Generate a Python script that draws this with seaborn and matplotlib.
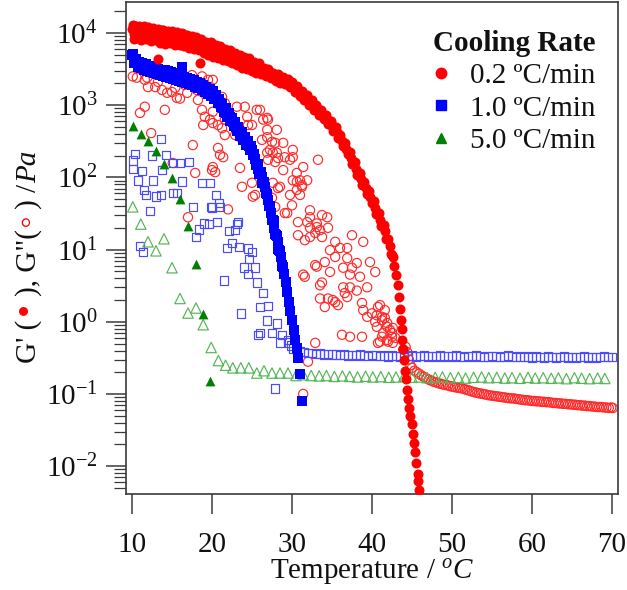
import matplotlib
matplotlib.use("Agg")
import matplotlib.pyplot as plt
from matplotlib.lines import Line2D
from matplotlib.ticker import LogLocator, NullFormatter
import numpy as np
import pandas as pd
import seaborn as sns

# ---------------- data ----------------
rate_labels = ["0.2 ºC/min", "1.0 ºC/min", "5.0 ºC/min"]
x_ticks = [10, 20, 30, 40, 50, 60, 70]

# G' at 0.2 C/min (red filled circles) - centre of the band
gp02_T = [10.0, 10.2, 10.4, 10.6, 10.8, 11.0,
          11.3, 11.6, 11.9, 12.2, 12.5, 12.8, 13.1, 13.4, 13.7, 14.0,
          14.3, 14.6, 14.9, 15.2, 15.5, 15.8, 16.1, 16.4, 16.7, 17.0,
          17.3, 17.6, 17.9, 18.2, 18.5, 18.8, 19.1, 19.4, 19.7, 20.0,
          20.3, 20.6, 20.9, 21.2, 21.5, 21.8, 22.1, 22.4, 22.7, 23.0,
          23.3, 23.6, 23.9, 24.2, 24.5, 24.8, 25.1, 25.4, 25.7, 26.0,
          26.3, 26.6, 26.9, 27.2, 27.5, 27.8, 28.1, 28.4, 28.7, 29.0,
          29.3, 29.6, 29.9, 30.2, 30.5, 30.8, 31.1, 31.4, 31.7, 32.0,
          32.3, 32.6, 32.9, 33.2, 33.5, 33.8, 34.1, 34.4, 34.7, 35.0,
          35.3, 35.6, 35.9, 36.2, 36.5, 36.8, 37.1, 37.4, 37.7, 38.0,
          38.3, 38.6, 38.9, 39.2, 39.5, 39.8, 40.1, 40.4, 40.7, 41.0,
          41.3, 41.6, 41.9, 42.2, 42.5, 42.8,
          43.0, 43.2, 43.35, 43.5, 43.6, 43.7, 43.8, 43.9, 44.0, 44.1,
          44.2, 44.35, 44.5, 44.65, 44.8, 44.95, 45.1, 45.25, 45.4, 45.55,
          45.7, 45.8, 45.9,
          13.25, 18.5]
gp02_G = [11200, 9550, 12000, 8900, 11500, 9800,
          11700, 8700, 11000, 9300, 11200, 8300, 10500, 9100, 11000, 7900,
          10000, 8500, 9800, 7800, 9300, 8100, 9500, 7600, 8900, 7200,
          8500, 7100, 8100, 6600, 7600, 6300, 7200, 6000, 6800, 5800,
          6500, 5400, 6000, 5000, 5600, 4700, 5200, 4600, 5000, 4300,
          4700, 4000, 4400, 3800, 4100, 3500, 3800, 3300, 3500, 3100,
          3200, 2900, 3000, 2700, 2750, 2500, 2570, 2350, 2350, 2200,
          2140, 2000, 1900, 1780, 1660, 1580, 1450, 1380, 1260, 1170,
          1070, 1000, 930, 870, 790, 740, 690, 630, 575, 510,
          470, 420, 370, 320, 290, 250, 220, 186, 158, 132,
          112, 95, 81, 71, 62, 54, 46, 38, 32, 26,
          22, 17.8, 14.1, 11.2, 8.3, 6.0,
          4.5, 3.2, 2.2, 1.5, 1.05, 0.79, 0.56, 0.42, 0.30, 0.21,
          0.16, 0.112, 0.085, 0.063, 0.050, 0.038, 0.028, 0.021, 0.0158, 0.0112,
          0.0079, 0.0063, 0.0047,
          4400, 3800]
# G' at 0.2 C/min - the scattered upper / lower edge points of the same band
gp02_edge_T = [10.1, 10.3, 10.5, 10.7, 10.9,
               11.15, 11.45, 11.75, 12.05, 12.35, 12.65, 12.95, 13.25, 13.55, 13.85,
               14.15, 14.45, 14.75, 15.05, 15.35, 15.65, 15.95, 16.25, 16.55, 16.85,
               17.15, 17.45, 17.75, 18.05, 18.35, 18.65, 18.95, 19.25, 19.55, 19.85,
               20.15, 20.45, 20.75, 21.05, 21.35, 21.65, 21.95, 22.25, 22.55, 22.85,
               23.15, 23.45, 23.75, 24.05, 24.35, 24.65, 24.95, 25.25, 25.55, 25.85,
               26.15, 26.45, 26.75, 27.05, 27.35, 27.65, 27.95, 28.25, 28.55, 28.85,
               29.15, 29.45, 29.75, 30.05, 30.35, 30.65, 30.95, 31.25, 31.55, 31.85,
               32.15, 32.45, 32.75, 33.05, 33.35, 33.65, 33.95, 34.25, 34.55, 34.85,
               35.15, 35.45, 35.75, 36.05, 36.35, 36.65, 36.95, 37.25, 37.55, 37.85,
               38.15, 38.45, 38.75, 39.05, 39.35, 39.65, 39.95, 40.25, 40.55, 40.85,
               41.15, 41.45, 41.75, 42.05, 42.35, 42.65]
gp02_edge_G = [12900, 8300, 12600, 8500, 12300,
               8100, 12300, 8300, 12000, 7800, 11700, 7900, 11200, 7200, 11000,
               7100, 10700, 7200, 10500, 6900, 10200, 6800, 10000, 6500, 9500,
               6200, 9100, 6000, 8700, 5800, 8300, 5200, 7600, 5000, 7400,
               4700, 6800, 4500, 6600, 4200, 5900, 4100, 5800, 3800, 5200,
               3600, 5000, 3300, 4600, 3200, 4500, 2950, 3900, 2800, 3800,
               2700, 3300, 2500, 3150, 2350, 2800, 2150, 2700, 2050, 2450,
               1950, 2300, 1800, 2070, 1530, 1820, 1350, 1580, 1180, 1360,
               1000, 1160, 860, 1010, 740, 860, 640, 740, 540, 610,
               440, 495, 350, 390, 272, 300, 209, 226, 153, 162,
               108, 116, 79, 85, 59, 65, 44, 47, 31, 32,
               21, 22, 14.1, 14.1, 8.6, 7.9]

# G'' at 0.2 C/min (red open circles): scattered cloud + smooth tail
gpp02_cloud_T = [10.1, 10.6, 11.6, 11.9, 12.0, 12.9, 13.25, 13.75, 14.4, 15.0,
                 15.4, 15.6, 16.0, 16.6, 16.9, 17.5, 18.1, 18.25, 18.75, 19.1,
                 19.5, 19.75, 20.1, 18.75, 19.1, 20.1, 19.75, 21.25, 21.6, 18.9,
                 20.1, 20.75, 21.25, 21.6, 22.5, 23.1, 24.1, 25.6, 24.4, 24.5,
                 25.0, 21.6, 22.9, 23.5, 26.25, 27.0, 28.1, 27.5, 26.9, 27.6,
                 28.25, 27.0, 11.6, 11.0, 14.1, 17.6, 21.4, 20.1, 15.1, 12.4,
                 17.0, 22.0, 17.9, 20.4, 23.5, 25.0, 27.6, 28.25, 25.4, 23.75,
                 25.1, 26.4, 26.9, 27.5, 27.9, 29.4, 20.75, 21.0, 20.0, 26.9,
                 26.9, 27.9, 27.25, 28.9, 28.1, 30.1, 29.75, 28.9, 30.6, 31.0,
                 30.1, 28.5, 33.25, 31.4, 27.9, 26.0, 29.1, 30.1, 31.9, 31.25,
                 30.6, 32.25, 32.9, 33.1, 31.6, 32.9, 31.4, 26.4, 26.9, 30.6,
                 31.25, 29.75, 31.0, 30.0, 29.1, 32.25, 33.75, 34.4, 30.75, 31.9,
                 33.1, 32.25, 33.5, 34.5, 30.75, 32.25, 33.75, 37.5, 38.9, 35.4,
                 34.75, 36.0, 36.9, 35.4, 36.9, 34.1, 33.1, 38.1, 39.75, 34.75,
                 36.4, 37.5, 37.25, 38.5, 40.4, 31.6, 33.5, 36.4, 37.25, 38.1,
                 39.4, 36.6, 33.5, 34.5, 35.4, 34.1, 35.75, 36.9, 38.75, 38.9,
                 40.0, 40.75, 40.6, 39.4, 40.4, 41.25, 41.6, 40.6, 41.9, 42.6,
                 36.25, 37.25, 38.75, 41.25, 40.75, 41.9, 42.5, 32.9, 33.75, 35.1,
                 32.0, 31.4, 41.0, 41.6, 41.25, 41.9, 42.25, 41.4, 41.0, 42.0,
                 42.6, 42.5, 42.9, 43.9]
gpp02_cloud_G = [2500, 2400, 2240, 2400, 1780, 1780, 2100, 1620, 1480, 1520,
                 1740, 1260, 1230, 1900, 1480, 2600, 1620, 1180, 2500, 1740,
                 2240, 1780, 2240, 860, 690, 810, 630, 1300, 1070, 530,
                 565, 530, 480, 630, 630, 950, 950, 860, 690, 530,
                 530, 385, 385, 360, 330, 630, 455, 310, 220, 220,
                 185, 175, 950, 780, 860, 280, 190, 139, 158, 410,
                 28, 36, 115, 118, 135, 84, 84, 71, 57, 74,
                 54, 78, 61, 52, 39, 32, 255, 205, 126, 665,
                 360, 300, 240, 300, 220, 190, 175, 126, 115, 91,
                 91, 74, 175, 139, 163, 860, 190, 240, 91, 74,
                 67, 28, 17, 20.5, 13.5, 6.1, 4.5, 630, 455, 87,
                 78, 57, 57, 41, 32, 35, 30, 28, 24, 24,
                 23, 20, 18.6, 20, 15.8, 14.9, 14.9, 15.8, 12.8, 12.8,
                 9.8, 10.5, 10.5, 7.9, 7.6, 6.7, 5.8, 6.5, 6.7, 4.9,
                 5.6, 5.6, 4.5, 4.2, 4.9, 4.2, 3.2, 3.0, 3.0, 2.7,
                 3.0, 2.5, 2.1, 2.1, 1.87, 1.60, 1.70, 2.2, 1.82, 1.45,
                 1.31, 1.60, 1.23, 1.17, 1.0, 1.17, 1.13, 0.85, 0.85, 0.82,
                 0.66, 0.62, 0.62, 0.62, 0.51, 0.56, 0.62, 0.51, 3.5, 2.0,
                 0.28, 0.10, 1.70, 1.45, 1.05, 0.96, 0.77, 0.70, 0.53, 0.53,
                 0.51, 0.70, 0.60, 0.41]
gpp02_tail_T = [44.2, 44.4, 44.6, 44.8, 45.0, 45.3, 45.6, 45.9, 46.2, 46.5,
                46.8, 47.1, 47.4, 47.7, 48.0, 48.3, 48.6, 48.9, 49.2, 49.5,
                49.8, 50.1, 50.4, 50.7, 51.0, 51.3, 51.6, 51.9, 52.2, 52.5,
                52.8, 53.1, 53.4, 53.7, 54.0, 54.3, 54.6, 54.9, 55.2, 55.5,
                55.8, 56.1, 56.4, 56.7, 57.0, 57.3, 57.6, 57.9, 58.2, 58.5,
                58.8, 59.1, 59.4, 59.7, 60.0, 60.3, 60.6, 60.9, 61.2, 61.5,
                61.8, 62.1, 62.4, 62.7, 63.0, 63.3, 63.6, 63.9, 64.2, 64.5,
                64.8, 65.1, 65.4, 65.7, 66.0, 66.3, 66.6, 66.9, 67.2, 67.5,
                67.8, 68.1, 68.4, 68.7, 69.0, 69.3, 69.6, 69.9, 70.1]
gpp02_tail_G = [0.45, 0.38, 0.30, 0.25, 0.23, 0.21, 0.20, 0.19, 0.18, 0.172,
                0.165, 0.158, 0.153, 0.148, 0.145, 0.141, 0.138, 0.135, 0.133, 0.131,
                0.128, 0.126, 0.124, 0.122, 0.121, 0.119, 0.116, 0.114, 0.111, 0.108,
                0.106, 0.104, 0.102, 0.101, 0.099, 0.098, 0.096, 0.095, 0.094, 0.093,
                0.092, 0.091, 0.090, 0.089, 0.088, 0.087, 0.087, 0.086, 0.085, 0.084,
                0.083, 0.082, 0.082, 0.081, 0.080, 0.080, 0.079, 0.079, 0.078, 0.078,
                0.077, 0.077, 0.076, 0.075, 0.075, 0.074, 0.074, 0.073, 0.073, 0.072,
                0.072, 0.071, 0.071, 0.070, 0.070, 0.069, 0.069, 0.068, 0.068, 0.067,
                0.067, 0.066, 0.066, 0.066, 0.065, 0.065, 0.064, 0.065, 0.064]

# G' at 1.0 C/min (blue filled squares) - centre of the band
gp10_T = [10.0, 10.2, 10.4, 10.6, 10.8, 11.0, 11.2, 11.4, 11.6, 11.8,
          12.0, 12.2, 12.4, 12.6, 12.8, 13.0, 13.2, 13.4, 13.6, 13.8,
          14.0, 14.2, 14.4, 14.6, 14.8, 15.0, 15.2, 15.4, 15.6, 15.8,
          16.0, 16.2, 16.4, 16.6, 16.8, 17.0, 17.2, 17.4, 17.6, 17.8,
          18.0, 18.2, 18.4, 18.6, 18.8, 19.0, 19.2, 19.4, 19.6, 19.8,
          20.0, 20.2, 20.4, 20.6, 20.8, 21.0, 21.2, 21.4, 21.6, 21.8,
          22.0, 22.2, 22.4, 22.6, 22.8, 23.0, 23.2, 23.4, 23.6, 23.8,
          24.0, 24.2, 24.4, 24.6, 24.8, 25.0, 25.2, 25.4, 25.6, 25.8,
          26.0, 26.2, 26.4, 26.6, 26.8, 27.0, 27.2, 27.4, 27.6, 27.8,
          28.0, 28.2, 28.4, 28.6, 28.8, 29.0, 29.2, 29.4, 29.6, 29.8,
          30.0, 30.2, 30.4, 30.6, 30.8, 31.0, 31.2, 16.25]
gp10_G = [5000, 4400, 4000, 3800, 3700, 3600, 3550, 3450, 3400, 3300,
          3250, 3150, 3100, 3050, 3000, 2950, 2900, 2870, 2830, 2800,
          2760, 2740, 2700, 2650, 2620, 2580, 2530, 2500, 2450, 2400,
          2350, 2330, 2280, 2230, 2180, 2150, 2120, 2080, 2040, 2000,
          1950, 1900, 1850, 1780, 1740, 1700, 1650, 1600, 1550, 1500,
          1450, 1380, 1320, 1230, 1150, 1070, 980, 910, 850, 790,
          740, 680, 630, 590, 550, 500, 470, 435, 400, 370,
          345, 315, 295, 275, 255, 240, 210, 178, 150, 132,
          115, 100, 85, 74, 60, 49, 40, 32, 26, 20,
          16, 12.6, 10, 7.8, 6.0, 4.6, 3.5, 2.6, 1.9, 1.4,
          1.05, 0.76, 0.56, 0.43, 0.32, 0.19, 0.079, 3400]
# G' at 1.0 C/min - upper / lower edge points of the band
gp10_edge_T = [10.1, 10.3, 10.5, 10.7, 10.9, 11.1, 11.3, 11.5, 11.7, 11.9,
               12.1, 12.3, 12.5, 12.7, 12.9, 13.1, 13.3, 13.5, 13.7, 13.9,
               14.1, 14.3, 14.5, 14.7, 14.9, 15.1, 15.3, 15.5, 15.7, 15.9,
               16.1, 16.3, 16.5, 16.7, 16.9, 17.1, 17.3, 17.5, 17.7, 17.9,
               18.1, 18.3, 18.5, 18.7, 18.9, 19.1, 19.3, 19.5, 19.7, 19.9,
               20.1, 20.3, 20.5, 20.7, 20.9, 21.1, 21.3, 21.5, 21.7, 21.9,
               22.1, 22.3, 22.5, 22.7, 22.9, 23.1, 23.3, 23.5, 23.7, 23.9,
               24.1, 24.3, 24.5, 24.7, 24.9, 25.1, 25.3, 25.5, 25.7, 25.9,
               26.1, 26.3, 26.5, 26.7, 26.9, 27.1, 27.3, 27.5, 27.7, 27.9,
               28.1, 28.3, 28.5, 28.7, 28.9]
gp10_edge_G = [5160, 3820, 4290, 3410, 4010, 3250, 3850, 3110, 3690, 2980,
               3520, 2840, 3380, 2750, 3270, 2660, 3170, 2590, 3100, 2530,
               3030, 2470, 2940, 2400, 2860, 2320, 2770, 2250, 2670, 2160,
               2570, 2100, 2480, 2000, 2380, 1940, 2310, 1870, 2220, 1800,
               2120, 1700, 2000, 1600, 1890, 1520, 1790, 1430, 1680, 1340,
               1560, 1230, 1400, 1080, 1220, 930, 1040, 800, 900, 695,
               780, 595, 670, 518, 578, 441, 497, 379, 424, 325,
               363, 277, 314, 241, 272, 205, 212, 148, 155, 112,
               118, 84, 87, 61, 59, 40, 40, 26, 25, 16.4,
               15.6, 10.2, 9.7, 6.2, 5.8]

# G'' at 1.0 C/min (blue open squares): scattered part + flat tail
gpp10_scatter_T = [10.4, 10.1, 10.1, 11.25, 13.6, 12.5, 14.25, 15.1, 16.0, 17.1,
                   12.6, 16.25, 18.75, 19.75, 11.5, 11.75, 13.0, 13.6, 15.1, 17.6,
                   19.9, 20.9, 21.0, 12.25, 19.0, 19.6, 20.6, 18.4, 22.1, 23.1,
                   23.25, 22.9, 18.0, 11.0, 11.4, 21.9, 23.4, 24.5, 24.6, 24.0,
                   25.4, 24.5, 25.6, 21.5, 26.4, 26.0, 27.0, 23.6, 26.9, 28.1,
                   25.75, 26.0, 27.5, 28.75, 29.5, 28.5, 27.9, 22.5, 25.0, 13.75,
                   10.75, 15.6, 20.5, 20.0]
gpp10_scatter_G = [210, 170, 130, 123, 340, 200, 205, 158, 158, 163,
                   91, 87, 84, 84, 67, 57, 54, 57, 61, 39,
                   39, 44, 39, 34, 23, 22.5, 24, 18.8, 18, 22.5,
                   24, 18.6, 14.9, 11.2, 9.3, 10.5, 10.9, 10.3, 7.4, 5.6,
                   5.6, 4.6, 3.5, 3.7, 2.5, 1.6, 1.66, 1.29, 1.05, 0.95,
                   0.66, 0.70, 0.70, 0.66, 0.56, 0.52, 0.12, 12.3, 9.3, 126,
                   91, 61, 57, 38]
gpp10_tail_T = [29.6, 29.9, 30.2, 30.6, 31.0, 31.5, 32.0, 32.5, 33.0, 33.5,
                34.0, 34.5, 35.0, 35.5, 36.0, 36.5, 37.0, 37.5, 38.0, 38.5,
                39.0, 39.5, 40.0, 40.5, 41.0, 41.5, 42.0, 42.5, 43.0, 43.5,
                44.0, 44.5, 45.0, 45.5, 46.0, 46.5, 47.0, 47.5, 48.0, 48.5,
                49.0, 49.5, 50.0, 50.5, 51.0, 51.5, 52.0, 52.5, 53.0, 53.5,
                54.0, 54.5, 55.0, 55.5, 56.0, 56.5, 57.0, 57.5, 58.0, 58.5,
                59.0, 59.5, 60.0, 60.5, 61.0, 61.5, 62.0, 62.5, 63.0, 63.5,
                64.0, 64.5, 65.0, 65.5, 66.0, 66.5, 67.0, 67.5, 68.0, 68.5,
                69.0, 69.5, 70.0]
gpp10_tail_G = [0.52, 0.47, 0.43, 0.40, 0.39, 0.38, 0.37, 0.37, 0.36, 0.365,
                0.355, 0.36, 0.35, 0.355, 0.345, 0.35, 0.34, 0.345, 0.34, 0.35,
                0.34, 0.335, 0.345, 0.34, 0.335, 0.34, 0.33, 0.34, 0.335, 0.33,
                0.325, 0.335, 0.34, 0.33, 0.335, 0.34, 0.33, 0.335, 0.33, 0.34,
                0.33, 0.335, 0.33, 0.34, 0.33, 0.325, 0.335, 0.33, 0.34, 0.33,
                0.325, 0.33, 0.335, 0.33, 0.325, 0.33, 0.34, 0.33, 0.325, 0.33,
                0.325, 0.33, 0.32, 0.33, 0.325, 0.32, 0.33, 0.325, 0.32, 0.325,
                0.33, 0.32, 0.325, 0.32, 0.325, 0.33, 0.32, 0.325, 0.32, 0.325,
                0.33, 0.325, 0.325]

# G' at 5.0 C/min (green filled triangles)
gp50_T = [10.1, 11.1, 12.0, 13.0, 14.0, 15.0, 16.0, 17.0, 18.0, 18.9, 19.8]
gp50_G = [515, 400, 318, 232, 155, 98, 50, 21, 6.3, 1.3, 0.15]

# G'' at 5.0 C/min (green open triangles)
gpp50_T = [10.1, 11.1, 12.0, 13.0, 14.0, 15.0, 16.0, 17.0, 18.0, 18.9,
           19.9, 20.8, 21.7, 22.6, 23.6, 24.6, 25.6, 26.5, 27.5, 28.5,
           29.5, 30.5, 31.4, 32.4, 33.4, 34.3, 35.3, 36.3, 37.2, 38.2,
           39.2, 40.1, 41.1, 42.1, 43.0, 44.0, 45.0, 45.9, 46.9, 47.9,
           48.8, 49.8, 50.8, 51.7, 52.7, 53.7, 54.6, 55.6, 56.6, 57.5,
           58.5, 59.5, 60.4, 61.4, 62.4, 63.3, 64.3, 65.3, 66.2, 67.2,
           68.2, 69.1]
gpp50_G = [39, 22.5, 12.8, 9.6, 14.1, 5.6, 2.1, 1.32, 1.55, 0.91,
           0.44, 0.29, 0.25, 0.23, 0.23, 0.23, 0.195, 0.21, 0.195, 0.195,
           0.195, 0.18, 0.185, 0.18, 0.178, 0.18, 0.175, 0.178, 0.175, 0.172,
           0.176, 0.172, 0.174, 0.17, 0.172, 0.175, 0.17, 0.172, 0.168, 0.17,
           0.172, 0.168, 0.17, 0.166, 0.17, 0.172, 0.168, 0.17, 0.166, 0.168,
           0.165, 0.17, 0.166, 0.168, 0.165, 0.167, 0.163, 0.168, 0.165, 0.163,
           0.166, 0.164]

# ---------------- style ----------------
sns.set_theme(style="ticks")
plt.rcParams["font.family"] = ["Liberation Serif", "DejaVu Sans"]
plt.rcParams["mathtext.fontset"] = "custom"
plt.rcParams["mathtext.rm"] = "Liberation Serif"
plt.rcParams["mathtext.it"] = "Liberation Serif:italic"
plt.rcParams["mathtext.bf"] = "Liberation Serif:bold"

W, H = 627, 590
L, R, T, B = 126, 618, 2, 494
fig = plt.figure(figsize=(W / 100, H / 100), dpi=100)
ax = fig.add_axes([L / W, 1 - B / H, (R - L) / W, (B - T) / H])
ax.set_yscale("log")

RED, BLUE, GREEN = "#ff0000", "#0000ff", "#008000"


def scat(tv, gv, marker, s, face, edge, lw, z):
    df = pd.DataFrame({"T": tv, "G": gv})
    sns.scatterplot(data=df, x="T", y="G", marker=marker, s=s,
                    facecolor=face, edgecolor=edge, linewidth=lw,
                    ax=ax, legend=False, zorder=z)


scat(gpp02_cloud_T + gpp02_tail_T, gpp02_cloud_G + gpp02_tail_G,
     "o", 44, "none", "#ff2a2a", 0.85, 2)
scat(gpp10_scatter_T + gpp10_tail_T, gpp10_scatter_G + gpp10_tail_G,
     "s", 38, "none", "#4a4aff", 0.85, 2.1)
scat(gpp50_T, gpp50_G, "^", 56, "none", "#55b555", 0.85, 2.2)
scat(gp10_T + gp10_edge_T, gp10_G + gp10_edge_G, "s", 42, BLUE, BLUE, 0.0, 3)
scat(gp50_T, gp50_G, "^", 50, GREEN, GREEN, 0.0, 3.1)
scat(gp02_T + gp02_edge_T, gp02_G + gp02_edge_G, "o", 52, RED, RED, 0.0, 3.2)

ax.set_xlim(9.25, 70.75)
ax.set_ylim(4.12e-3, 2.68e4)
ax.set_xticks(x_ticks)
ax.set_xticklabels([str(v) for v in x_ticks])
ax.yaxis.set_major_locator(LogLocator(base=10, numticks=20))
ax.yaxis.set_minor_locator(LogLocator(base=10, subs=np.arange(2, 10), numticks=20))
ax.yaxis.set_minor_formatter(NullFormatter())

edge_col = "#3a3a3a"
for sp in ax.spines.values():
    sp.set_color(edge_col)
    sp.set_linewidth(1.2)
ax.tick_params(axis="both", which="major", direction="out", length=14.4,
               width=1.1, color=edge_col, labelsize=21, labelcolor="#111111")
ax.tick_params(axis="x", which="major", pad=13)
ax.tick_params(axis="y", which="major", pad=6)
ax.tick_params(axis="y", which="minor", direction="out", length=9,
               width=0.9, color=edge_col)
ax.tick_params(axis="x", which="minor", bottom=False)

ax.set_ylabel("")
ax.yaxis.label.set_visible(False)
ax.xaxis.get_offset_text().set_visible(False)
ax.yaxis.get_offset_text().set_visible(False)
ax.set_xlabel("Temperature / $^{o}C$", fontsize=21, color="#111111")
ax.xaxis.set_label_coords(0.5, (B - 557) / (B - T))

# legend
handles = [Line2D([], [], ls="none", marker="o", color=RED, markersize=7.5),
           Line2D([], [], ls="none", marker="s", color=BLUE, markersize=6.5),
           Line2D([], [], ls="none", marker="^", color=GREEN, markersize=7.5)]
leg = ax.legend(handles, rate_labels, title="Cooling Rate", loc="upper right",
                bbox_to_anchor=((596 - L) / (R - L), (B - 30) / (B - T)),
                frameon=False, fontsize=21,
                title_fontproperties={"size": 21, "weight": "bold"},
                handlelength=0.6, handletextpad=0.7, labelspacing=0.2,
                borderpad=0, borderaxespad=0)
for txt in leg.get_texts():
    txt.set_color("#111111")
leg.get_title().set_color("#111111")

# y label built from coloured pieces: G' ( • ), G"( ◦ ) /Pa
fig.canvas.draw()
rend = fig.canvas.get_renderer()
pieces = [("G' (", "#111111", "normal", 21, 0),
          ("\u2022", RED, "normal", 27, 5),
          ("), G\"(", "#111111", "normal", 21, 5),
          ("\u25e6", RED, "normal", 26, 4),
          (") /", "#111111", "normal", 21, 4),
          ("Pa", "#111111", "italic", 21, 1)]
cur = H - 363
xb = 36 / W
for txt, col, sty, fs, gap in pieces:
    cur += gap
    t = fig.text(xb, cur / H, txt, rotation=90, rotation_mode="anchor",
                 ha="left", va="baseline", fontsize=fs, color=col, style=sty)
    bb = t.get_window_extent(renderer=rend)
    cur += bb.height

fig.savefig("out.png", dpi=100)
